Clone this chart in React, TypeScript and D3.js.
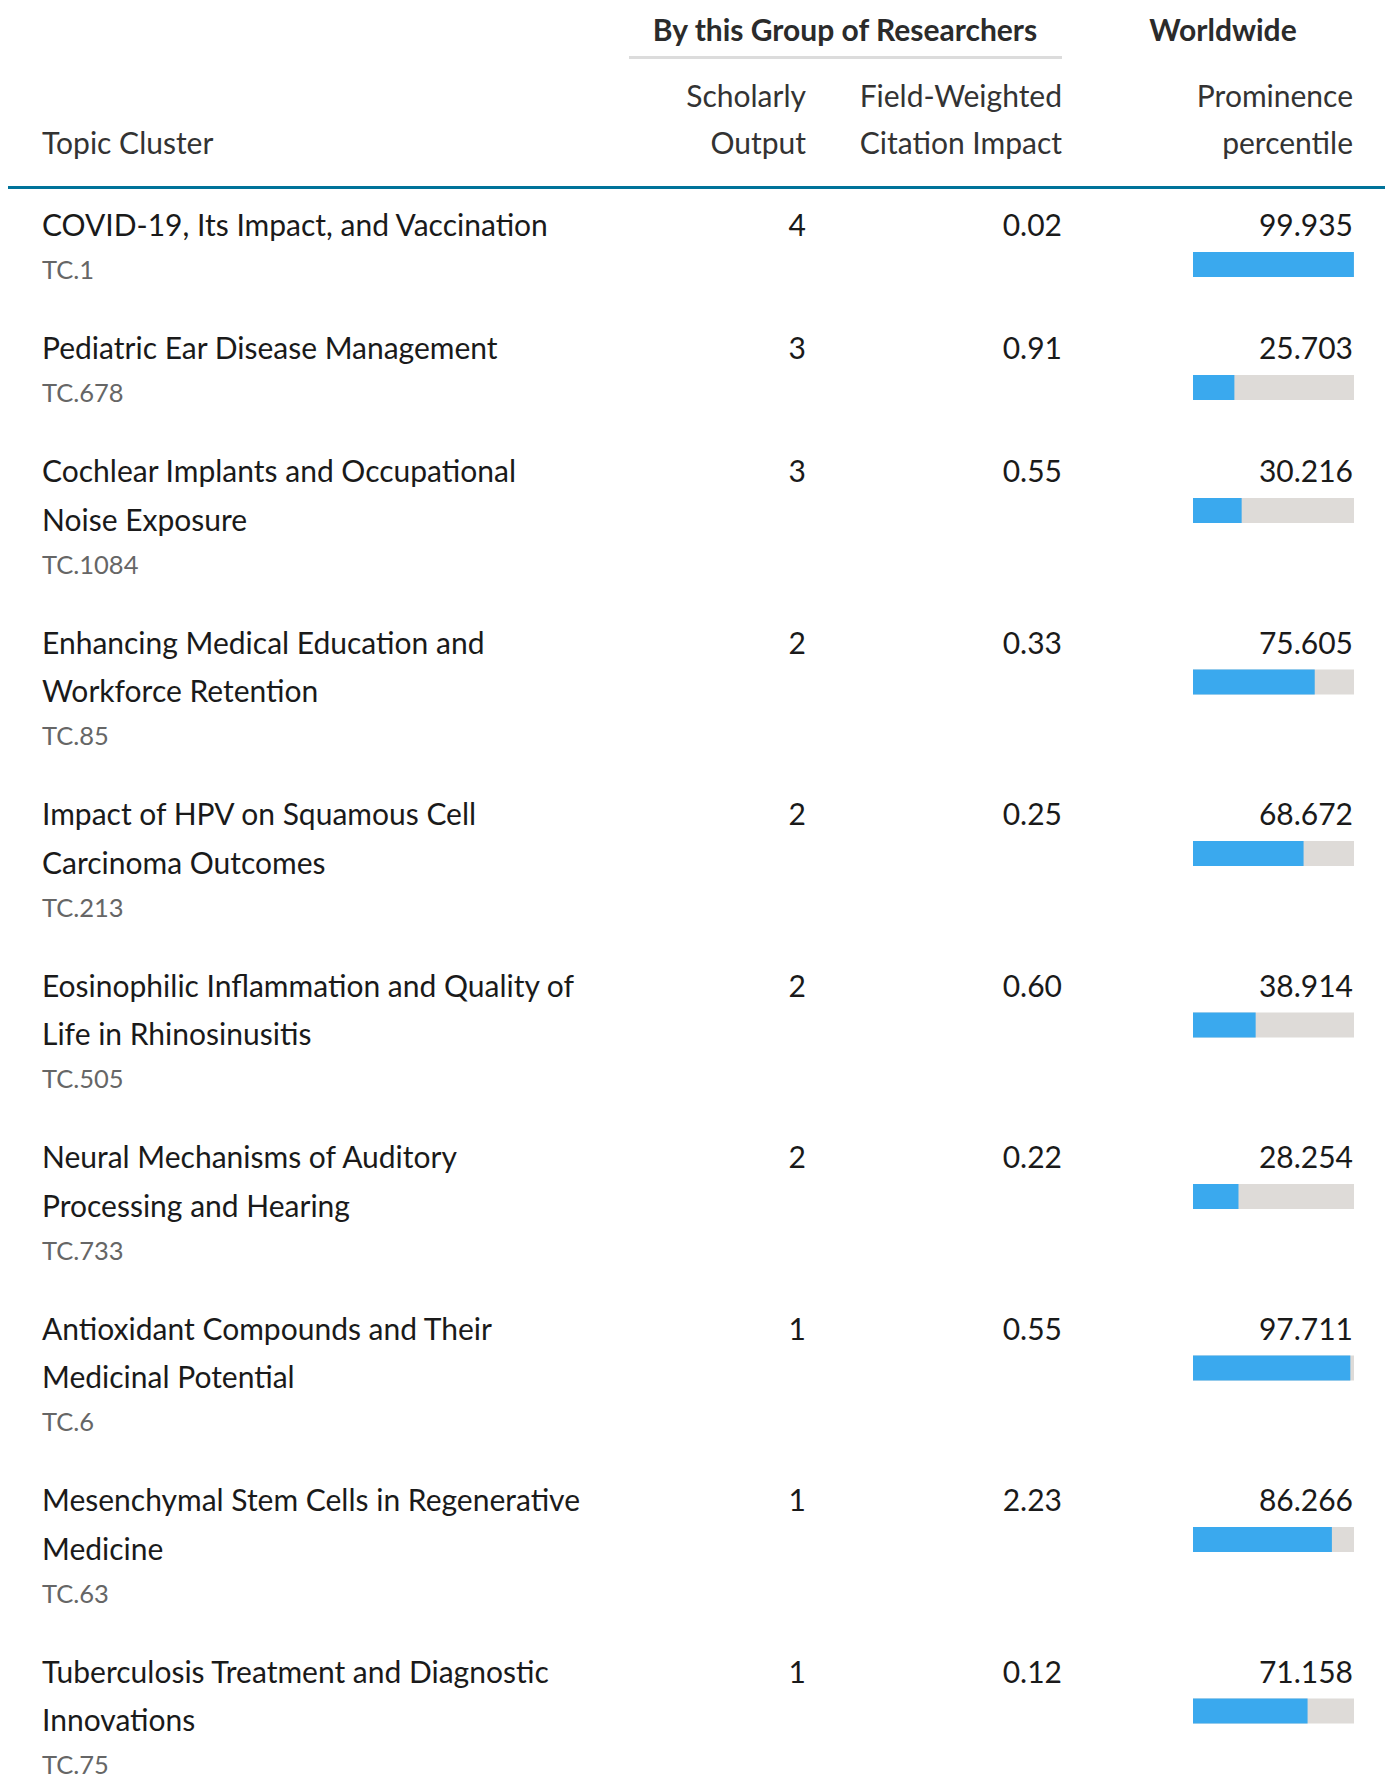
import { useEffect, useRef } from 'react';
import * as d3 from 'd3';

const topicTitles: string[][] = [
  ['COVID-19, Its Impact, and Vaccination'],
  ['Pediatric Ear Disease Management'],
  ['Cochlear Implants and Occupational', 'Noise Exposure'],
  ['Enhancing Medical Education and', 'Workforce Retention'],
  ['Impact of HPV on Squamous Cell', 'Carcinoma Outcomes'],
  ['Eosinophilic Inflammation and Quality of', 'Life in Rhinosinusitis'],
  ['Neural Mechanisms of Auditory', 'Processing and Hearing'],
  ['Antioxidant Compounds and Their', 'Medicinal Potential'],
  ['Mesenchymal Stem Cells in Regenerative', 'Medicine'],
  ['Tuberculosis Treatment and Diagnostic', 'Innovations'],
];
const topicCodes = ['TC.1', 'TC.678', 'TC.1084', 'TC.85', 'TC.213', 'TC.505', 'TC.733', 'TC.6', 'TC.63', 'TC.75'];
const scholarlyOutput = [4, 3, 3, 2, 2, 2, 2, 1, 1, 1];
const fwci = [0.02, 0.91, 0.55, 0.33, 0.25, 0.6, 0.22, 0.55, 2.23, 0.12];
const prominence = [99.935, 25.703, 30.216, 75.605, 68.672, 38.914, 28.254, 97.711, 86.266, 71.158];

const FONT = 'Lato, "Noto Sans", sans-serif';

export default function App() {
  const svgRef = useRef<SVGSVGElement>(null);

  useEffect(() => {
    if (!svgRef.current) return;
    const width = 1388;
    const height = 1776;
    const svg = d3.select(svgRef.current).attr('width', width).attr('height', height);
    svg.selectAll('*').remove();

    const lineH = 48.5;
    const rowPad = 74.5;
    const bodyTop = 188;

    // column anchors
    const xTopic = 42;
    const xOutput = 806;
    const xFwci = 1062;
    const xProm = 1353;
    const barX = d3.scaleLinear().domain([0, 100]).range([1193, 1354]);

    // header
    const head = svg.append('g').style('font-family', FONT);
    head.append('text').attr('x', 845).attr('y', 41).attr('text-anchor', 'middle')
      .style('font-size', '30px').style('font-weight', 'bold').style('fill', '#2b2b2b')
      .text('By this Group of Researchers');
    head.append('rect').attr('x', 629).attr('y', 56).attr('width', 433).attr('height', 3).attr('fill', '#dcdcdc');
    head.append('text').attr('x', 1223).attr('y', 41).attr('text-anchor', 'middle')
      .style('font-size', '30px').style('font-weight', 'bold').style('fill', '#2b2b2b')
      .text('Worldwide');

    const subHeads: [number, string, string, string][] = [
      [xTopic, 'start', '', 'Topic Cluster'],
      [xOutput, 'end', 'Scholarly', 'Output'],
      [xFwci, 'end', 'Field-Weighted', 'Citation Impact'],
      [xProm, 'end', 'Prominence', 'percentile'],
    ];
    subHeads.forEach(([x, anchor, l1, l2]) => {
      if (l1) head.append('text').attr('x', x).attr('y', 107).attr('text-anchor', anchor)
        .style('font-size', '30px').style('fill', '#333').text(l1);
      head.append('text').attr('x', x).attr('y', 154).attr('text-anchor', anchor)
        .style('font-size', '30px').style('fill', '#333').text(l2);
    });

    svg.append('rect').attr('x', 8).attr('y', 186).attr('width', 1377).attr('height', 3).attr('fill', '#00739a');

    // row tops from line counts
    const tops: number[] = [];
    let acc = bodyTop;
    topicTitles.forEach((t) => {
      tops.push(acc);
      acc += t.length * lineH + rowPad;
    });

    const rows = svg.selectAll('g.row')
      .data(topicTitles.map((t, i) => ({ t, i })))
      .enter()
      .append('g')
      .attr('class', 'row')
      .attr('transform', (d) => `translate(0, ${tops[d.i]})`)
      .style('font-family', FONT);

    rows.each(function (d) {
      const g = d3.select(this);
      d.t.forEach((line, k) => {
        g.append('text').attr('x', xTopic).attr('y', 48 + k * lineH)
          .style('font-size', '30px').style('fill', '#1a1a1a').text(line);
      });
      g.append('text').attr('x', xTopic).attr('y', 48 + (d.t.length - 1) * lineH + 43)
        .style('font-size', '25.5px').style('fill', '#666').text(topicCodes[d.i]);
    });

    rows.append('text').attr('x', xOutput).attr('y', 48).attr('text-anchor', 'end')
      .style('font-size', '30px').style('fill', '#1a1a1a').text((d) => scholarlyOutput[d.i]);
    rows.append('text').attr('x', xFwci).attr('y', 48).attr('text-anchor', 'end')
      .style('font-size', '30px').style('fill', '#1a1a1a').text((d) => fwci[d.i].toFixed(2));
    rows.append('text').attr('x', xProm).attr('y', 48).attr('text-anchor', 'end')
      .style('font-size', '30px').style('fill', '#1a1a1a').text((d) => prominence[d.i].toFixed(3));

    // prominence bars
    rows.append('rect').attr('x', barX(0)).attr('y', 64)
      .attr('width', barX(100) - barX(0)).attr('height', 25).attr('fill', '#dedbd8');
    rows.append('rect').attr('x', barX(0)).attr('y', 64)
      .attr('width', (d) => barX(prominence[d.i]) - barX(0)).attr('height', 25).attr('fill', '#3aa9ee');
  }, []);

  return (
    <div style={{ position: 'absolute', left: 0, top: 0, background: '#fff' }}>
      <svg ref={svgRef} style={{ display: 'block' }} />
    </div>
  );
}
